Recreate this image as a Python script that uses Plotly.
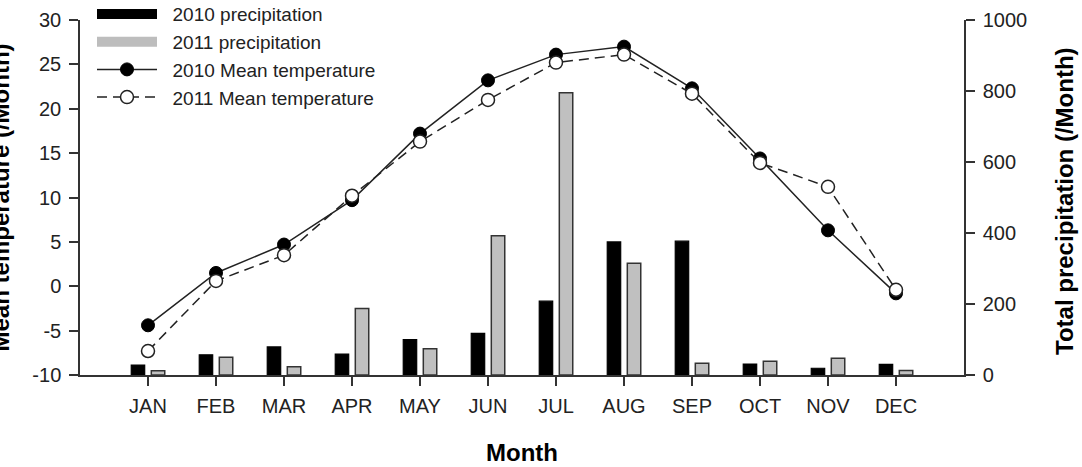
import plotly.graph_objects as go

months = ["JAN", "FEB", "MAR", "APR", "MAY", "JUN", "JUL", "AUG", "SEP", "OCT", "NOV", "DEC"]
precip_2010 = [28, 57, 79, 59, 100, 117, 208, 375, 377, 31, 19, 30]
precip_2011 = [12, 50, 23, 187, 74, 392, 795, 315, 33, 39, 47, 13]
temp_2010 = [-4.4, 1.5, 4.7, 9.7, 17.2, 23.2, 26.1, 27.0, 22.3, 14.4, 6.3, -0.8]
temp_2011 = [-7.3, 0.6, 3.5, 10.2, 16.3, 21.0, 25.2, 26.1, 21.7, 13.9, 11.2, -0.4]
temp_ticks = [-10, -5, 0, 5, 10, 15, 20, 25, 30]
precip_ticks = [0, 200, 400, 600, 800, 1000]

FONT = "Liberation Sans, Arial, sans-serif"
INK = "#222222"
PAD = "\u00a0\u00a0"

fig = go.Figure()
# legend-only swatches for the bar series (wide rectangles as in the reference)
fig.add_trace(go.Scatter(x=[None], y=[None], mode="lines", name=PAD + "2010 precipitation",
                         line=dict(color="black", width=15), yaxis="y", hoverinfo="skip"))
fig.add_trace(go.Scatter(x=[None], y=[None], mode="lines", name=PAD + "2011 precipitation",
                         line=dict(color="#bdbdbd", width=15), yaxis="y", hoverinfo="skip"))
fig.add_trace(go.Bar(x=months, y=precip_2010, name="2010 precipitation", showlegend=False,
                     marker=dict(color="black", line=dict(color="black", width=1.2)),
                     yaxis="y"))
fig.add_trace(go.Bar(x=months, y=precip_2011, name="2011 precipitation", showlegend=False,
                     marker=dict(color="#c0c0c0", line=dict(color="#333333", width=1.5)),
                     yaxis="y"))
fig.add_trace(go.Scatter(x=months, y=temp_2010, name=PAD + "2010 Mean temperature",
                         mode="lines+markers", yaxis="y2",
                         line=dict(color=INK, width=1.5),
                         marker=dict(symbol="circle", size=13, color="black",
                                     line=dict(color="black", width=1))))
fig.add_trace(go.Scatter(x=months, y=temp_2011, name=PAD + "2011 Mean temperature",
                         mode="lines+markers", yaxis="y2",
                         line=dict(color=INK, width=1.5, dash="10px,6px"),
                         marker=dict(symbol="circle", size=13, color="white",
                                     line=dict(color=INK, width=1.5))))

axis_common = dict(showline=True, linecolor="#333333", linewidth=1.5,
                   ticks="outside", ticklen=9, tickwidth=1.5, tickcolor="#333333",
                   showgrid=False, zeroline=False,
                   tickfont=dict(family=FONT, size=20, color=INK))

fig.update_layout(
    width=1082, height=467,
    margin=dict(l=80, r=118, t=20, b=92, autoexpand=False),
    paper_bgcolor="white", plot_bgcolor="white",
    barmode="group", bargap=0.41, bargroupgap=0.33,
    showlegend=True,
    legend=dict(x=(92 - 80) / 884, y=1.07, xanchor="left", yanchor="top",
                bgcolor="rgba(0,0,0,0)", borderwidth=0,
                font=dict(family=FONT, size=19, color=INK),
                itemwidth=60, tracegroupgap=0, traceorder="normal"),
    xaxis=dict(type="category", categoryorder="array", categoryarray=months,
               range=[-1, 12], ticklabelstandoff=3, **axis_common),
    yaxis=dict(range=[0, 1000], tickvals=precip_ticks, ticktext=[str(v) for v in precip_ticks],
               side="right", ticklabelstandoff=4, **axis_common),
    yaxis2=dict(range=[-10, 30], tickvals=temp_ticks, ticktext=[str(v) for v in temp_ticks],
                side="left", overlaying="y", ticklabelstandoff=4, **axis_common),
    annotations=[
        dict(text="<b>Month</b>", xref="paper", yref="paper", x=0.5, y=-0.217,
             xanchor="center", yanchor="middle", showarrow=False,
             font=dict(family=FONT, size=24, color="black")),
        dict(text="<b>Mean temperature (/Month)</b>", xref="paper", yref="paper",
             x=-0.0894, y=0.5, textangle=-90, xanchor="center", yanchor="middle",
             showarrow=False, font=dict(family=FONT, size=24, color="black")),
        dict(text="<b>Total precipitation (/Month)</b>", xref="paper", yref="paper",
             x=1.113, y=0.49, textangle=-90, xanchor="center", yanchor="middle",
             showarrow=False, font=dict(family=FONT, size=24, color="black")),
    ],
)

fig.write_html("out.html")
